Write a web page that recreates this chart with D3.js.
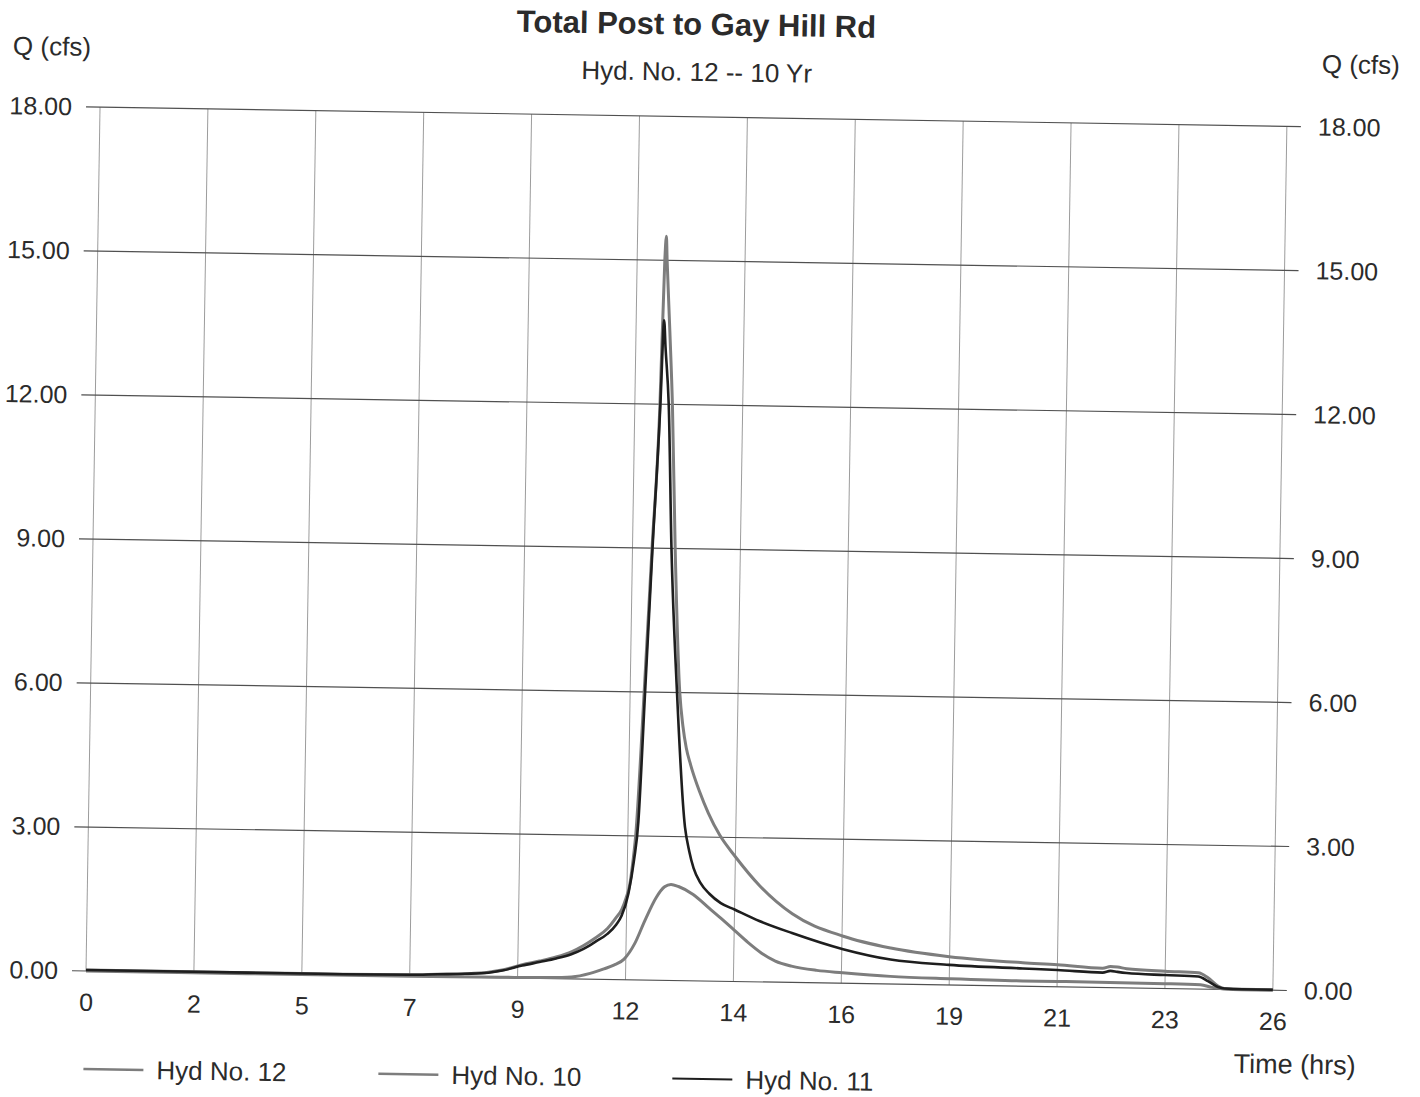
<!DOCTYPE html>
<html><head><meta charset="utf-8">
<script src="https://cdn.jsdelivr.net/npm/d3@7"></script>
<style>
body{margin:0;background:#fff}
svg{display:block}
text{font-family:"Liberation Sans",Arial,sans-serif;fill:#2b2b2b}
</style>
</head><body>
<svg id="c" width="1420" height="1097"></svg>
<script>
// ---- data ----
const xTickValues = [0, 2.333, 4.667, 7.0, 9.333, 11.667, 14.0, 16.333, 18.667, 21.0, 23.333, 25.667];
const xTickLabels = ["0","2","5","7","9","12","14","16","19","21","23","26"];
const yTickValues = [0, 3, 6, 9, 12, 15, 18];
const yTickLabels = ["0.00","3.00","6.00","9.00","12.00","15.00","18.00"];
const seriesNames = ["Hyd No. 12","Hyd No. 10","Hyd No. 11"];

const hyd12Time = [0,2,5,7,7.6,8.2,8.7,9.0,9.43,9.8,10.16,10.5,10.75,11.0,11.26,11.45,11.56,11.65,11.72,11.79,11.84,11.97,12.09,12.21,12.265,12.29,12.315,12.4,12.48,12.59,12.74,12.82,12.9,13.0,13.2,13.4,13.65,14.0,14.54,15.25,16.36,17.39,18.66,20.25,21.0,21.98,22.15,22.3,22.5,23.33,24.05,24.26,24.48,24.62,25.0,25.667];
const hyd12Q    = [0.02,0.02,0.02,0.03,0.05,0.07,0.11,0.16,0.28,0.36,0.45,0.57,0.70,0.86,1.06,1.30,1.46,1.70,1.95,2.5,3.05,6.0,9.0,12.0,15.0,15.5,15.0,13.5,12.0,9.0,6.0,5.3,4.85,4.5,3.95,3.5,3.05,2.6,2.0,1.43,0.98,0.75,0.59,0.49,0.46,0.40,0.44,0.43,0.40,0.36,0.34,0.24,0.07,0.02,0.01,0.01];

const hyd10Time = [0,2,5,7,9,10,10.5,10.9,11.2,11.41,11.63,11.85,12.07,12.3,12.48,12.62,12.78,13.1,13.45,13.75,14.0,14.3,14.6,14.9,15.25,15.8,16.36,17.39,18.66,20.25,21.0,23.33,24.1,24.35,24.6,25.0,25.667];
const hyd10Q    = [0,0,0,0,0.01,0.02,0.04,0.12,0.22,0.30,0.43,0.75,1.25,1.72,1.95,2.0,1.96,1.8,1.52,1.28,1.07,0.82,0.6,0.44,0.34,0.26,0.22,0.16,0.13,0.11,0.11,0.10,0.09,0.04,0.01,0,0];

const hyd11Time = [0,2,5,7,7.6,8.2,8.7,9.0,9.43,9.8,10.16,10.5,10.75,11.0,11.26,11.45,11.56,11.7,11.81,11.89,11.99,12.1,12.22,12.27,12.31,12.4,12.51,12.68,12.9,13.0,13.1,13.25,13.45,13.7,14.0,14.54,15.25,16.36,17.39,18.66,20.25,21.0,21.98,22.15,22.3,22.5,23.33,24.05,24.26,24.48,24.62,25.0,25.667];
const hyd11Q    = [0.02,0.02,0.02,0.03,0.05,0.07,0.1,0.15,0.26,0.34,0.42,0.52,0.63,0.78,0.95,1.15,1.33,1.8,2.5,3.3,6.0,9.0,12.0,13.75,13.2,12.0,9.0,6.0,3.2,2.7,2.35,2.05,1.82,1.63,1.50,1.27,1.03,0.71,0.51,0.42,0.37,0.35,0.31,0.35,0.33,0.31,0.28,0.26,0.17,0.05,0.02,0.01,0.01];

// ---- layout ----
const L = 86, B = 971, W = 1187, H = 864, T = B - H;
const x = d3.scaleLinear().domain([0, 25.667]).range([L, L + W]);
const y = d3.scaleLinear().domain([0, 18]).range([B, T]);

const svg = d3.select("#c");
const g = svg.append("g").attr("transform", `rotate(0.93 ${L} ${B})`);

// grid
g.append("g").selectAll("line").data(xTickValues).join("line")
  .attr("x1", d => x(d)).attr("x2", d => x(d)).attr("y1", T).attr("y2", B)
  .attr("stroke", "#9c9c9c").attr("stroke-width", 1);
g.append("g").selectAll("line").data(yTickValues).join("line")
  .attr("x1", L - 14).attr("x2", L + W + 14).attr("y1", d => y(d)).attr("y2", d => y(d))
  .attr("stroke", "#505050").attr("stroke-width", 1.2);

// axes
const fmtY = d => yTickLabels[yTickValues.indexOf(d)];
const fmtX = d => xTickLabels[xTickValues.indexOf(d)];
const axL = g.append("g").attr("transform", `translate(${L},0)`)
  .call(d3.axisLeft(y).tickValues(yTickValues).tickFormat(fmtY).tickSize(0).tickPadding(28));
const axR = g.append("g").attr("transform", `translate(${L + W},0)`)
  .call(d3.axisRight(y).tickValues(yTickValues).tickFormat(fmtY).tickSize(0).tickPadding(31));
const axB = g.append("g").attr("transform", `translate(0,${B})`)
  .call(d3.axisBottom(x).tickValues(xTickValues).tickFormat(fmtX).tickSize(0).tickPadding(22));
[axL, axR, axB].forEach(a => {
  a.select(".domain").remove();
  a.selectAll("text").attr("font-size", 25).attr("font-family", null).style("fill", "#2b2b2b");
});

// lines
const line = d3.line().x(d => x(d[0])).y(d => y(d[1])).curve(d3.curveMonotoneX);
const series = [
  {name: seriesNames[1], data: d3.zip(hyd10Time, hyd10Q), color: "#7d7d7d", w: 3},
  {name: seriesNames[0], data: d3.zip(hyd12Time, hyd12Q), color: "#7d7d7d", w: 3},
  {name: seriesNames[2], data: d3.zip(hyd11Time, hyd11Q), color: "#1e1e1e", w: 2.6}
];
g.append("g").selectAll("path").data(series).join("path")
  .attr("d", d => line(d.data)).attr("fill", "none")
  .attr("stroke", d => d.color).attr("stroke-width", d => d.w)
  .attr("stroke-linejoin", "round");

// titles
g.append("text").attr("x", 681).attr("y", 25).attr("text-anchor", "middle")
  .attr("font-size", 31).attr("font-weight", "bold").text("Total Post to Gay Hill Rd");
g.append("text").attr("x", 682).attr("y", 71).attr("text-anchor", "middle")
  .attr("font-size", 26).text("Hyd. No. 12 -- 10 Yr");
g.append("text").attr("x", -2).attr("y", 56).attr("font-size", 26).text("Q (cfs)");
g.append("text").attr("x", 1307).attr("y", 53).attr("font-size", 26).text("Q (cfs)");
g.append("text").attr("x", 1235).attr("y", 1054).attr("font-size", 27).text("Time (hrs)");

// legend
const legendX = [85, 380, 674];
const legendItems = [series[1], series[0], series[2]].map((s, i) => ({s, lx: legendX[i]}));
const lg = g.append("g").selectAll("g").data(legendItems).join("g");
lg.append("line").attr("x1", d => d.lx).attr("x2", d => d.lx + 60).attr("y1", 1069).attr("y2", 1069)
  .attr("stroke", d => d.s.color).attr("stroke-width", d => d.s.w - 0.6);
lg.append("text").attr("x", d => d.lx + 73).attr("y", 1078).attr("font-size", 26).text(d => d.s.name);
</script>
</body></html>
